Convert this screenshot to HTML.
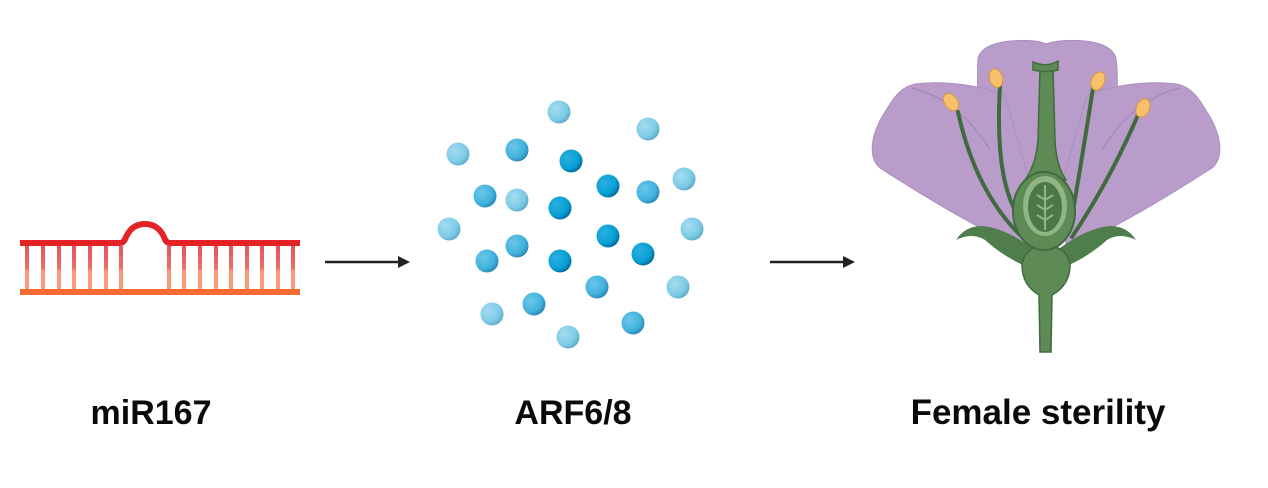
<!DOCTYPE html>
<html><head><style>
body{margin:0;background:#fff;width:1268px;height:488px;overflow:hidden}
svg{position:absolute;left:0;top:0}
.t{font-family:"Liberation Sans",sans-serif;font-size:34px;fill:#0a0a0a;font-weight:bold}
</style></head><body>
<svg width="1268" height="488" viewBox="0 0 1268 488">
<defs>
<linearGradient id="rung" x1="0" y1="0" x2="0" y2="1"><stop offset="0" stop-color="#e8545c"/><stop offset="0.5" stop-color="#ec6f6a"/><stop offset="0.55" stop-color="#f99a7a"/><stop offset="1" stop-color="#fa9a76"/></linearGradient>
<radialGradient id="gl" cx="0.35" cy="0.35" r="0.7"><stop offset="0" stop-color="#a5dcf0"/><stop offset="0.7" stop-color="#7ccbe7"/><stop offset="1" stop-color="#5fa9c8"/></radialGradient>
<radialGradient id="gm" cx="0.35" cy="0.35" r="0.7"><stop offset="0" stop-color="#6cc6e8"/><stop offset="0.7" stop-color="#3fb2dd"/><stop offset="1" stop-color="#2a87b3"/></radialGradient>
<radialGradient id="gd" cx="0.35" cy="0.35" r="0.7"><stop offset="0" stop-color="#2bb0e0"/><stop offset="0.7" stop-color="#069fd3"/><stop offset="1" stop-color="#05679a"/></radialGradient>
</defs>
<!-- RNA -->
<g fill="url(#rung)">
<rect x="25" y="246" width="4" height="45"/><rect x="41" y="246" width="4" height="45"/><rect x="57" y="246" width="4" height="45"/><rect x="72" y="246" width="4" height="45"/><rect x="88" y="246" width="4" height="45"/><rect x="104" y="246" width="4" height="45"/><rect x="119" y="246" width="4" height="45"/>
<rect x="167" y="246" width="4" height="45"/><rect x="182" y="246" width="4" height="45"/><rect x="198" y="246" width="4" height="45"/><rect x="214" y="246" width="4" height="45"/><rect x="229" y="246" width="4" height="45"/><rect x="245" y="246" width="4" height="45"/><rect x="260" y="246" width="4" height="45"/><rect x="276" y="246" width="4" height="45"/><rect x="291" y="246" width="4" height="45"/>
</g>
<path d="M20 243 H120 Q124 243 126 237 Q132 224 145 224 Q158 224 164 237 Q166 243 170 243 H300" stroke="#e32326" stroke-width="6" fill="none"/>
<rect x="20" y="289" width="280" height="6" fill="#f36b30"/>
<!-- arrows -->
<line x1="325" y1="262" x2="400" y2="262" stroke="#222" stroke-width="2.5"/><path d="M398 256 L410 262 L398 268 Z" fill="#222"/>
<line x1="770" y1="262" x2="845" y2="262" stroke="#222" stroke-width="2.5"/><path d="M843 256 L855 262 L843 268 Z" fill="#222"/>
<!-- particles -->
<g fill="url(#gl)"><circle cx="559" cy="112" r="11.5"/><circle cx="648" cy="129" r="11.5"/><circle cx="458" cy="154" r="11.5"/><circle cx="684" cy="179" r="11.5"/><circle cx="517" cy="200" r="11.5"/><circle cx="449" cy="229" r="11.5"/><circle cx="692" cy="229" r="11.5"/><circle cx="678" cy="287" r="11.5"/><circle cx="492" cy="314" r="11.5"/><circle cx="568" cy="337" r="11.5"/></g>
<g fill="url(#gm)"><circle cx="517" cy="150" r="11.5"/><circle cx="485" cy="196" r="11.5"/><circle cx="648" cy="192" r="11.5"/><circle cx="517" cy="246" r="11.5"/><circle cx="487" cy="261" r="11.5"/><circle cx="597" cy="287" r="11.5"/><circle cx="534" cy="304" r="11.5"/><circle cx="633" cy="323" r="11.5"/></g>
<g fill="url(#gd)"><circle cx="571" cy="161" r="11.5"/><circle cx="608" cy="186" r="11.5"/><circle cx="560" cy="208" r="11.5"/><circle cx="608" cy="236" r="11.5"/><circle cx="643" cy="254" r="11.5"/><circle cx="560" cy="261" r="11.5"/></g>
<!-- flower -->
<g stroke="#a98fc0" stroke-width="1" fill="#b99cc9">
<path d="M982 150 Q976 90 978 58 Q982 44 1010 41 Q1035 39 1046 44 Q1060 39 1085 41 Q1112 44 1116 58 Q1120 90 1112 150 L1090 210 L1005 210 Z"/>
<path d="M1025 248 C990 236 930 200 880 168 C868 158 870 135 885 112 C895 95 902 87 915 84 C945 80 985 86 1005 96 L1035 200 Z"/>
<path d="M1067 248 C1102 236 1162 200 1212 168 C1224 158 1222 135 1207 112 C1197 95 1190 87 1177 84 C1147 80 1107 86 1087 96 L1057 200 Z"/>
</g>
<g stroke="#9f86b8" stroke-width="1" fill="none"><path d="M912 88 Q960 100 990 150"/><path d="M1180 88 Q1132 100 1102 150"/></g>
<!-- sepals -->
<path d="M1032 248 Q1005 228 982 226 Q965 226 956 240 Q972 232 985 240 Q1005 258 1030 268 Z" fill="#4f7d4c"/>
<path d="M1060 248 Q1087 228 1110 226 Q1127 226 1136 240 Q1120 232 1107 240 Q1087 258 1062 268 Z" fill="#4f7d4c"/>
<!-- stamens -->
<g stroke="#3f6b3e" stroke-width="4" fill="none" stroke-linecap="round">
<path d="M1020 235 Q975 190 958 112"/><path d="M1014 208 Q995 170 1000 85"/><path d="M1074 205 Q1085 140 1093 88"/><path d="M1072 237 Q1110 180 1138 115"/>
</g>
<g fill="#f7c06a" stroke="#d9993f" stroke-width="1">
<ellipse cx="951" cy="102" rx="6.5" ry="9.5" transform="rotate(-35 951 102)"/><ellipse cx="996" cy="78" rx="6.5" ry="9.5" transform="rotate(-15 996 78)"/><ellipse cx="1098" cy="81" rx="6.5" ry="9.5" transform="rotate(25 1098 81)"/><ellipse cx="1143" cy="108" rx="6.5" ry="9.5" transform="rotate(25 1143 108)"/>
</g>
<!-- pistil -->
<path d="M1040 352 L1039 295 Q1022 285 1022 265 Q1024 248 1046 244 Q1068 248 1070 265 Q1070 285 1052 295 L1051 352 Z" fill="#5d8a55" stroke="#3f6b3e" stroke-width="1.5"/>
<path d="M1040 68 L1038 140 Q1036 165 1025 180 L1066 180 Q1056 165 1055 140 L1053 68 Z" fill="#5d8a55" stroke="#3f6b3e" stroke-width="1.5"/>
<path d="M1033 62 Q1047 68 1058 61 L1058 70 Q1047 73 1033 70 Z" fill="#5d8a55" stroke="#3f6b3e" stroke-width="1.5"/>
<ellipse cx="1044" cy="211" rx="31" ry="39" fill="#5d8a55" stroke="#3f6b3e" stroke-width="2"/>
<ellipse cx="1045" cy="206" rx="22" ry="30" fill="#8fb683"/>
<ellipse cx="1045" cy="207" rx="17" ry="25" fill="#4c7748"/>
<g stroke="#8fb683" stroke-width="2" fill="none"><path d="M1045 185 V230"/><path d="M1037 195 L1045 200 L1053 195 M1037 205 L1045 210 L1053 205 M1037 215 L1045 220 L1053 215"/></g>
<!-- labels -->
<text class="t" x="151" y="424" text-anchor="middle">miR167</text>
<text class="t" x="573" y="424" text-anchor="middle">ARF6/8</text>
<text class="t" x="1038" y="424" text-anchor="middle" style="font-size:35px">Female sterility</text>
</svg>
</body></html>
